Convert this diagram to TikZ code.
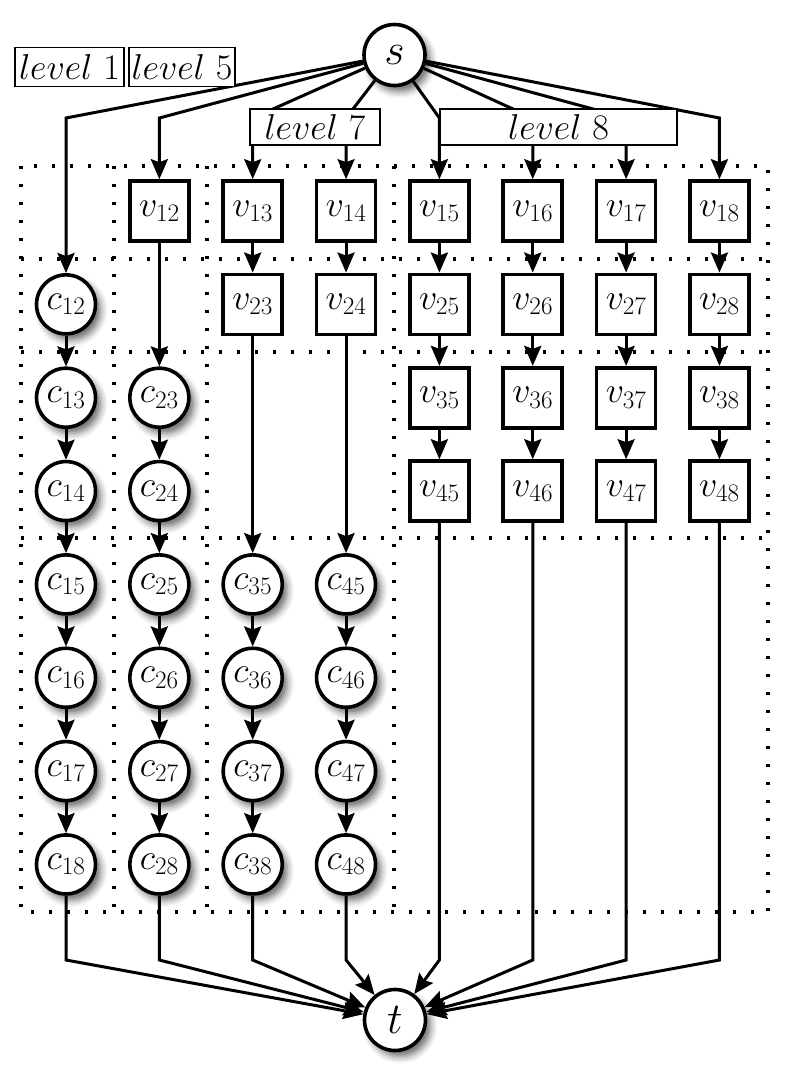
\documentclass[tikz,border=0pt]{standalone}
\usetikzlibrary{arrows.meta,shadows.blur}
\DeclareFontShape{OML}{cmm}{m}{it}{<-6>cmmi5<6-7>cmmi6<7-8>cmmi7<8-9>cmmi8<9-10>cmmi9<10-12>cmmi10<12->cmmi12}{\skewchar\font'177}
\DeclareFontShape{OT1}{cmr}{m}{n}{<-6>cmr5<6-7>cmr6<7-8>cmr7<8-9>cmr8<9-10>cmr9<10-12>cmr10<12-17>cmr12<17->cmr17}{}
\DeclareFontShape{OMS}{cmsy}{m}{n}{<-6>cmsy5<6-7>cmsy6<7-8>cmsy7<8-9>cmsy8<9-10>cmsy9<10->cmsy10}{\skewchar\font'60}
\DeclareFontShape{OMX}{cmex}{m}{n}{<->cmex10}{}
\begin{document}
\begin{tikzpicture}[x=1pt,y=-1pt,
  every node/.style={font=\fontsize{36}{40}\selectfont},
  cnode/.style={circle,draw,line width=3.6pt,fill=white,minimum size=59pt,inner sep=0pt,
    blur shadow={shadow xshift=5pt,shadow yshift=-6pt,shadow blur radius=7pt,shadow opacity=60}},
  vnode/.style={rectangle,draw,line width=3.6pt,fill=white,minimum width=59pt,minimum height=60pt,inner sep=0pt},
  stnode/.style={cnode,minimum size=61pt,font=\fontsize{44}{48}\selectfont},
  lvl/.style={rectangle,draw,line width=1.8pt,fill=white,inner sep=0pt},
  edge/.style={line width=3pt,-{Stealth[length=20pt,width=17pt,inset=3pt]}},
  dotgrid/.style={line width=3.3pt,dash pattern=on 3.3pt off 14.7pt},
]
\useasboundingbox (0,0) rectangle (785,1074);

% dotted level grid
\draw[dotgrid] (21,166) rectangle (768,912);
\foreach \yy in {259,352,538} \draw[dotgrid] (21,\yy) -- (768,\yy);
\foreach \xx in {114,207,394} \draw[dotgrid] (\xx,166) -- (\xx,912);

% source and sink
\node[stnode] (s) at (394.5,55) {$s$};
\node[stnode] (t) at (395,1020) {$t$};

% column 1
\foreach \j in {2,...,8} \node[cnode] (c1\j) at (66,{211+93.35*(\j-1)}) {$c_{1\j}$};
% column 2
\node[vnode] (v12) at (159.35,211) {$v_{12}$};
\foreach \j in {3,...,8} \node[cnode] (c2\j) at (159.35,{211+93.35*(\j-1)}) {$c_{2\j}$};
% columns 3 and 4
\foreach \k in {3,4} {
  \node[vnode] (v1\k) at ({66+93.35*(\k-1)},211) {$v_{1\k}$};
  \node[vnode] (v2\k) at ({66+93.35*(\k-1)},304.35) {$v_{2\k}$};
  \foreach \j in {5,...,8} \node[cnode] (c\k\j) at ({66+93.35*(\k-1)},{211+93.35*(\j-1)}) {$c_{\k\j}$};
}
% columns 5 to 8
\foreach \k in {5,...,8} \foreach \i in {1,...,4}
  \node[vnode] (v\i\k) at ({66+93.35*(\k-1)},{211+93.35*(\i-1)}) {$v_{\i\k}$};

% bend coordinates
\foreach \k in {1,...,8} {
  \coordinate (a\k) at ({66+93.35*(\k-1)},118);
  \coordinate (b\k) at ({66+93.35*(\k-1)},960);
}

% edges from s
\foreach \k/\n in {1/c12,2/v12,3/v13,4/v14,5/v15,6/v16,7/v17,8/v18}
  \draw[edge] (s) -- (a\k) -- (\n);
% edges to t
\foreach \k/\n in {1/c18,2/c28,3/c38,4/c48,5/v45,6/v46,7/v47,8/v48}
  \draw[edge] (\n) -- (b\k) -- (t);

% chains
\foreach \p/\q in {c12/c13,c13/c14,c14/c15,c15/c16,c16/c17,c17/c18,
  v12/c23,c23/c24,c24/c25,c25/c26,c26/c27,c27/c28,
  v13/v23,v23/c35,c35/c36,c36/c37,c37/c38,
  v14/v24,v24/c45,c45/c46,c46/c47,c47/c48}
  \draw[edge] (\p) -- (\q);
\foreach \k in {5,...,8} {
  \draw[edge] (v1\k) -- (v2\k);
  \draw[edge] (v2\k) -- (v3\k);
  \draw[edge] (v3\k) -- (v4\k);
}

% level labels
\node[lvl,minimum width=109pt,minimum height=39pt] (L1) at (69.5,67) {$level~1$};
\node[lvl,minimum width=106pt,minimum height=39pt] (L5) at (182,67) {$level~5$};
\node[lvl,minimum width=130pt,minimum height=36pt] (L7) at (315,127) {$level~7$};
\node[lvl,minimum width=237pt,minimum height=36pt] (L8) at (558.5,127) {$level~8$};
\end{tikzpicture}
\end{document}
